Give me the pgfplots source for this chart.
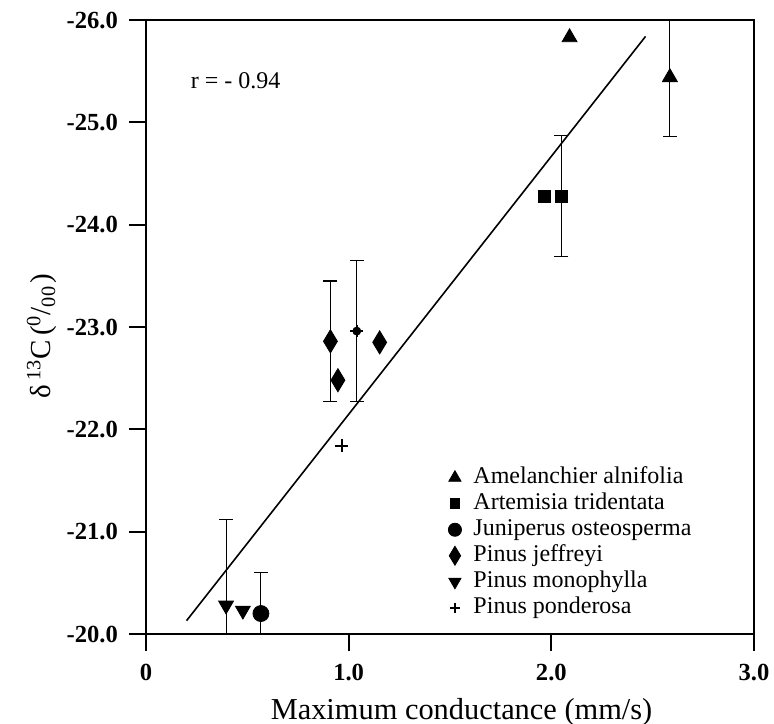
\documentclass[border=0pt]{standalone}
\usepackage{fontspec}
\setmainfont{Liberation Serif}
\usepackage{pgfplots}
\pgfplotsset{compat=1.18}
\newcommand\legfont{\fontsize{12}{14}\selectfont}
\newcommand\tickfont{\bfseries\fontsize{12.3}{14}\selectfont}
\begin{document}
\begin{tikzpicture}
\begin{axis}[
  name=ax,
  scale only axis, width=304pt, height=307pt,
  xmin=0, xmax=3, ymin=-26, ymax=-20, y dir=reverse,
  axis line style={line width=0.9pt},
  xtick={0,1,2,3}, xticklabels={0,1.0,2.0,3.0},
  ytick={-26,-25,-24,-23,-22,-21,-20},
  yticklabels={-26.0,-25.0,-24.0,-23.0,-22.0,-21.0,-20.0},
  xtick pos=bottom, ytick pos=left,
  tick align=outside, major tick length=8.5pt,
  tick style={line width=0.9pt, black},
  ticklabel style={font=\tickfont},
  y tick label style={xshift=-2pt},
  x tick label style={yshift=-3pt},
  /pgf/number format/assume math mode=true,
  xlabel={Maximum conductance (mm/s)},
  ylabel={δ\kern2pt\textsuperscript{13}C\kern2pt(\textsuperscript{0}/\textsubscript{00}\kern1pt)},
  x label style={at={(axis description cs:0.519,0)}, anchor=base, yshift=-42.5pt, font=\fontsize{15.2}{17}\selectfont},
  y label style={at={(axis description cs:-0.171,0.485)}, anchor=center, font=\fontsize{14.5}{17}\selectfont},
  legend style={draw=none, fill=none, at={(axis cs:1.49,-20.15)}, anchor=south west,
    font=\legfont, row sep=2.5pt, inner sep=0pt,
    nodes={inner ysep=0pt, inner xsep=1pt, text height=8pt, text depth=2.5pt},
    /tikz/every odd column/.append style={column sep=5pt}},
  legend cell align=left,
  lg/.style={legend image code/.code={\draw[##1, every mark/.append style={scale=0.82}] plot coordinates {(0pt,0pt)};}},
  eb/.style={only marks, mark=none, forget plot, black,
    error bars/.cd, y dir=both, y explicit,
    error bar style={line width=0.55pt},
    error mark options={line width=0.6pt, mark size=3.5pt, rotate=90}},
]
% error bars
\addplot[eb] coordinates {(2.585,-25.44) +- (0,0.58)};
\addplot[eb] coordinates {(2.05,-24.28) +- (0,0.59)};
\addplot[eb] coordinates {(0.567,-20.20) +- (0,0.40)};
\addplot[eb] coordinates {(0.91,-22.86) +- (0,0.59)};
\addplot[eb] coordinates {(0.395,-20.28) +- (0,0.84)};
\addplot[eb] coordinates {(1.04,-22.96) +- (0,0.69)};
% regression line
\addplot[black, line width=0.8pt, forget plot] coordinates {(0.20,-20.13) (2.465,-25.84)};
% species
\addplot[only marks, black, mark=triangle*, mark size=4.3pt, lg] coordinates {(2.09,-25.83) (2.585,-25.44)};
\addlegendentry{Amelanchier alnifolia}
\addplot[only marks, black, mark=square*, mark size=3pt, lg] coordinates {(1.965,-24.28) (2.05,-24.28)};
\addlegendentry{Artemisia tridentata}
\addplot[only marks, black, mark=*, mark size=4pt, lg] coordinates {(0.567,-20.20)};
\addlegendentry{Juniperus osteosperma}
\addplot[only marks, black, mark=diamond*, mark size=5.8pt, mark options={xscale=0.8}, lg] coordinates {(0.91,-22.86) (0.947,-22.48) (1.153,-22.85)};
\addlegendentry{Pinus jeffreyi}
\addplot[only marks, black, mark=triangle*, mark size=4.3pt, mark options={rotate=180}, lg] coordinates {(0.395,-20.28) (0.478,-20.23)};
\addlegendentry{Pinus monophylla}
\addplot[only marks, black, mark=+, mark size=3.2pt, mark options={line width=1.2pt}, lg] coordinates {(1.04,-22.96) (0.966,-21.84)};
\addlegendentry{Pinus ponderosa}
\node[anchor=west, inner sep=0pt, font=\legfont] at (axis cs:0.22,-25.41) {r = - 0.94};
\end{axis}
\pgfresetboundingbox
\path ([shift={(-73pt,-45pt)}]ax.south west) rectangle ([shift={(10pt,10pt)}]ax.north east);
\end{tikzpicture}
\end{document}
